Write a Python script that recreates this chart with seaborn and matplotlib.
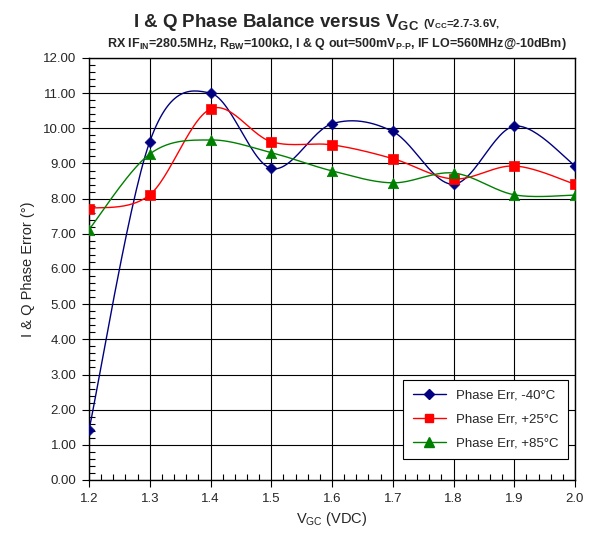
import numpy as np
import pandas as pd
import matplotlib
matplotlib.use("Agg")
import matplotlib.pyplot as plt
import seaborn as sns
from matplotlib.lines import Line2D
from matplotlib.ticker import MultipleLocator, FormatStrFormatter

# ---- data ----
vgc = [1.2, 1.3, 1.4, 1.5, 1.6, 1.7, 1.8, 1.9, 2.0]
err_m40 = [1.42, 9.62, 11.00, 8.86, 10.13, 9.91, 8.41, 10.06, 8.94]
err_p25 = [7.72, 8.11, 10.55, 9.62, 9.53, 9.14, 8.56, 8.93, 8.41]
err_p85 = [7.12, 9.27, 9.67, 9.31, 8.79, 8.45, 8.73, 8.11, 8.10]
series_names = ["Phase Err, -40°C", "Phase Err, +25°C", "Phase Err, +85°C"]
colors = ["#000080", "#FF0000", "#008000"]
markers = ["D", "s", "^"]
msizes = [5.5, 7, 7.5]

sns.set_theme(style="white")
plt.rcParams["font.family"] = ["Liberation Sans", "DejaVu Sans"]
plt.rcParams["mathtext.fontset"] = "custom"
plt.rcParams["mathtext.rm"] = "Liberation Sans"
plt.rcParams["mathtext.bf"] = "Liberation Sans:bold"
plt.rcParams["mathtext.it"] = "Liberation Sans:italic"

df = pd.DataFrame({"VGC": vgc * 3,
                   "err": err_m40 + err_p25 + err_p85,
                   "series": sum([[n] * len(vgc) for n in series_names], [])})


def smooth(x, y, n=30):
    # Excel-style smoothed line (Catmull-Rom Bezier) for drawing only
    x = np.asarray(x, float); y = np.asarray(y, float)
    px = np.concatenate([[x[0]], x, [x[-1]]])
    py = np.concatenate([[y[0]], y, [y[-1]]])
    xs, ys = [], []
    t = np.linspace(0, 1, n)
    for i in range(1, len(px) - 2):
        p0 = np.array([px[i], py[i]]); p3 = np.array([px[i + 1], py[i + 1]])
        c1 = p0 + (np.array([px[i + 1], py[i + 1]]) - np.array([px[i - 1], py[i - 1]])) / 6
        c2 = p3 - (np.array([px[i + 2], py[i + 2]]) - np.array([px[i], py[i]])) / 6
        b = ((1 - t) ** 3)[:, None] * p0 + (3 * (1 - t) ** 2 * t)[:, None] * c1 + \
            (3 * (1 - t) * t ** 2)[:, None] * c2 + (t ** 3)[:, None] * p3
        xs.extend(b[:, 0]); ys.extend(b[:, 1])
    return np.array(xs), np.array(ys)


fig = plt.figure(figsize=(5.93, 5.34), dpi=100)
ax = fig.add_axes([89 / 593, 1 - 480 / 534, (575 - 89) / 593, (480 - 58) / 534])

for name, c, m, ms in zip(series_names, colors, markers, msizes):
    sub = df[df.series == name]
    sx, sy = smooth(sub.VGC, sub.err)
    ax.plot(sx, sy, color=c, lw=1.0, zorder=3)
    sns.scatterplot(x=sub.VGC, y=sub.err, ax=ax, color=c, marker=m, s=ms ** 2,
                    edgecolor=c, linewidth=0.5, zorder=4, legend=False)

ax.set_xlim(1.2, 2.0)
ax.set_ylim(0, 12)
ax.xaxis.set_major_locator(MultipleLocator(0.1))
ax.xaxis.set_minor_locator(MultipleLocator(0.02))
ax.yaxis.set_major_locator(MultipleLocator(1.0))
ax.yaxis.set_minor_locator(MultipleLocator(0.2))
ax.xaxis.set_major_formatter(FormatStrFormatter("%.1f"))
ax.yaxis.set_major_formatter(FormatStrFormatter("%.2f"))
ax.grid(True, which="major", color="black", lw=0.8)
ax.set_axisbelow(True)
for s in ax.spines.values():
    s.set_color("black"); s.set_linewidth(1.0)
ax.tick_params(which="major", direction="out", length=5, width=0.8, color="black",
               labelsize=9.5, bottom=True, left=True, pad=4)
ax.tick_params(which="minor", direction="in", length=4, width=0.8, color="black",
               bottom=True, left=True)
ax.set_xlabel(r"V$_{\mathrm{GC}}$ (VDC)", fontsize=10.5, labelpad=4)
ax.set_ylabel("I & Q Phase Error (°)", fontsize=10.5, labelpad=6)

handles = [Line2D([0], [0], color=c, marker=m, markersize=ms * 0.9, lw=1.0,
                  markeredgecolor=c) for c, m, ms in zip(colors, markers, msizes)]
leg = ax.legend(handles, series_names, loc="lower right",
                bbox_to_anchor=((568 - 89) / 486, (480 - 459) / 422),
                borderaxespad=0,
                fontsize=9.5, frameon=True, fancybox=False, edgecolor="black",
                framealpha=1, handlelength=2.5, labelspacing=0.9, borderpad=0.7)
leg.get_frame().set_linewidth(0.8)

t1 = fig.text(133 / 593, 1 - 27 / 534, r"I & Q Phase Balance versus V$_\mathbf{GC}$",
              fontsize=13.5, fontweight="bold", ha="left", va="baseline")
fig.canvas.draw()
bb = t1.get_window_extent(renderer=fig.canvas.get_renderer())
fig.text((bb.x1 + 4) / fig.bbox.width, 1 - 27 / 534, r"(V$_\mathbf{CC}$=2.7-3.6V,",
         fontsize=8.2, fontweight="bold", ha="left", va="baseline")
fig.text(337 / 593, 1 - 47 / 534,
         r"RX IF$_\mathbf{IN}$=280.5MHz, R$_\mathbf{BW}$=100k$\mathbf{\Omega}$, I & Q out=500mV$_\mathbf{P\text{-}P}$, IF LO=560MHz@-10dBm)",
         fontsize=9.0, fontweight="bold", ha="center", va="baseline")

fig.savefig("out.png", dpi=100, facecolor="white")
